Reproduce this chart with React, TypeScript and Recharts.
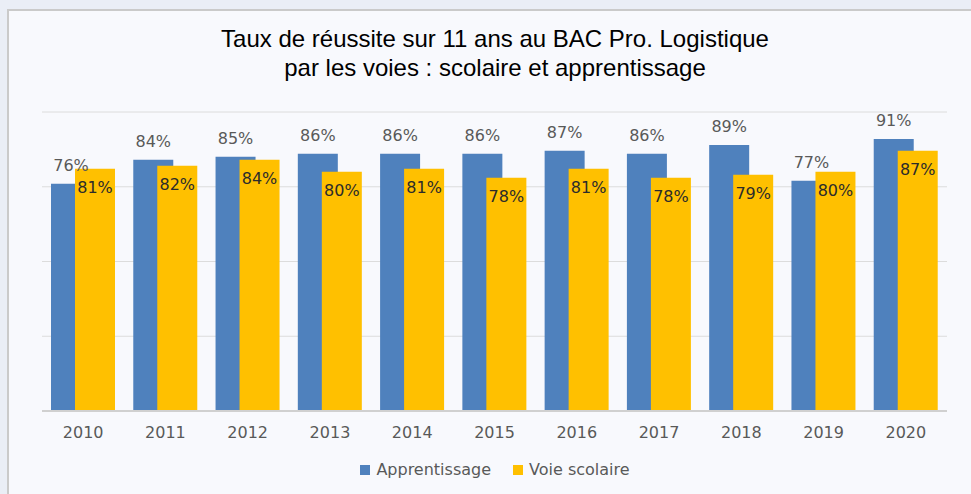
import React from 'react';
import {
  BarChart,
  Bar,
  XAxis,
  YAxis,
  CartesianGrid,
  Legend,
  LabelList
} from 'recharts';

const YEARS = ['2010', '2011', '2012', '2013', '2014', '2015', '2016', '2017', '2018', '2019', '2020'];
const APPRENTISSAGE = [76, 84, 85, 86, 86, 86, 87, 86, 89, 77, 91];
const VOIE_SCOLAIRE = [81, 82, 84, 80, 81, 78, 81, 78, 79, 80, 87];
const Y_TICKS = [0, 25, 50, 75, 100];

const BLUE = '#4F81BD';
const YELLOW = '#FFC000';
const LABEL_FONT = '"DejaVu Sans", sans-serif';

const data = YEARS.map((year, i) => ({
  year,
  apprentissage: APPRENTISSAGE[i],
  scolaire: VOIE_SCOLAIRE[i]
}));

const pct = (v: any) => `${v}%`;

// legend drawn by hand so the squares/spacing match the picture
const LegendContent = () => (
  <div
    style={{
      display: 'flex',
      justifyContent: 'center',
      alignItems: 'center',
      fontFamily: LABEL_FONT,
      fontSize: 16,
      color: '#595959'
    }}
  >
    {[
      { name: 'Apprentissage', color: BLUE },
      { name: 'Voie scolaire', color: YELLOW }
    ].map((item, i) => (
      <div
        key={item.name}
        style={{ display: 'flex', alignItems: 'center', marginLeft: i ? 22 : 0 }}
      >
        <span
          style={{ width: 10, height: 10, background: item.color, marginRight: 6, display: 'inline-block' }}
        />
        <span>{item.name}</span>
      </div>
    ))}
  </div>
);

const App: React.FC = () => {
  return (
    <div
      style={{
        position: 'absolute',
        left: 0,
        top: 0,
        width: 971,
        height: 494,
        overflow: 'hidden',
        background: '#EAEEF6'
      }}
    >
      <div
        style={{
          position: 'absolute',
          left: 7,
          top: 9,
          width: 990,
          height: 500,
          background: '#F8F9FD',
          borderLeft: '2px solid #CACACA',
          borderTop: '2px solid #CACACA'
        }}
      />
      <div
        style={{
          position: 'absolute',
          left: 0,
          top: 24,
          width: 990,
          textAlign: 'center',
          fontFamily: '"Liberation Sans", Arial, sans-serif',
          fontSize: 24,
          lineHeight: '29px',
          color: '#000'
        }}
      >
        <div>Taux de réussite sur 11 ans au BAC Pro. Logistique</div>
        <div>par les voies : scolaire et apprentissage</div>
      </div>
      <div style={{ position: 'absolute', left: 0, top: 0 }}>
        <BarChart
          width={971}
          height={494}
          data={data}
          margin={{ top: 112, right: 24, left: 42, bottom: 43 }}
          barSize={40}
          barGap={-16}
        >
          <CartesianGrid horizontal vertical={false} stroke="#DCDCDC" />
          <YAxis hide domain={[0, 100]} ticks={Y_TICKS} />
          <XAxis
            dataKey="year"
            height={40}
            tickLine={false}
            tickSize={0}
            tickMargin={16}
            axisLine={{ stroke: '#D0D0D0', strokeWidth: 2 }}
            tick={{ fill: '#595959', fontSize: 16, fontFamily: LABEL_FONT }}
          />
          <Legend
            verticalAlign="middle"
            layout="horizontal"
            wrapperStyle={{ top: 460, left: 0, width: 990 }}
            content={<LegendContent />}
          />
          <Bar dataKey="apprentissage" fill={BLUE} isAnimationActive={false}>
            <LabelList
              dataKey="apprentissage"
              position="top"
              offset={13}
              formatter={pct}
              fill="#595959"
              fontSize={16}
              fontFamily={LABEL_FONT}
            />
          </Bar>
          <Bar dataKey="scolaire" fill={YELLOW} isAnimationActive={false}>
            <LabelList
              dataKey="scolaire"
              position="insideTop"
              offset={13}
              formatter={pct}
              fill="#2B2B2B"
              fontSize={16}
              fontFamily={LABEL_FONT}
            />
          </Bar>
        </BarChart>
      </div>
    </div>
  );
};

export default App;
